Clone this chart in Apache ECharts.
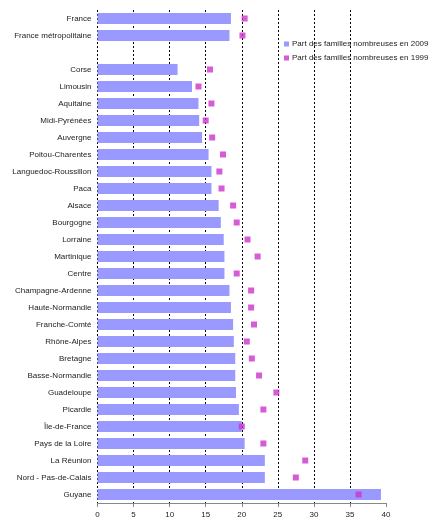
<!DOCTYPE html>
<html><head><meta charset="utf-8">
<script src="https://cdn.jsdelivr.net/npm/echarts@6/dist/echarts.min.js"></script>
<style>html,body{margin:0;padding:0;background:#fff}#c{width:448px;height:531px}</style>
</head><body><div id="c"></div>
<script>
const categories = ["France","France métropolitaine","","Corse","Limousin","Aquitaine","Midi-Pyrénées","Auvergne","Poitou-Charentes","Languedoc-Roussillon","Paca","Alsace","Bourgogne","Lorraine","Martinique","Centre","Champagne-Ardenne","Haute-Normandie","Franche-Comté","Rhône-Alpes","Bretagne","Basse-Normandie","Guadeloupe","Picardie","Île-de-France","Pays de la Loire","La Réunion","Nord - Pas-de-Calais","Guyane"];
const values2009 = [18.5,18.3,null,11.1,13.1,14.0,14.1,14.5,15.4,15.8,15.8,16.8,17.1,17.5,17.6,17.6,18.3,18.5,18.8,18.9,19.1,19.1,19.2,19.6,20.0,20.4,23.2,23.2,39.3];
const values1999 = [20.4,20.1,null,15.6,14.0,15.8,15.0,15.9,17.4,16.9,17.2,18.8,19.3,20.8,22.2,19.3,21.3,21.3,21.7,20.7,21.4,22.4,24.8,23.0,20.0,23.0,28.8,27.5,36.2];
const seriesNames = ["Part des familles nombreuses en 2009","Part des familles nombreuses en 1999"];
const xTicks = {min:0,max:40,interval:5};

const chart = echarts.init(document.getElementById('c'));
chart.setOption({
  animation:false,
  textStyle:{fontFamily:'Liberation Sans, Arial, sans-serif'},
  grid:{left:97.5,right:62,top:10,bottom:28,containLabel:false,outerBoundsMode:'none'},
  legend:{
    orient:'vertical',left:279,top:35,itemWidth:5,itemHeight:5,itemGap:6,
    textStyle:{fontSize:8,color:'#222',padding:[0,0,0,-2]},
    data:[{name:seriesNames[0],icon:'rect'},{name:seriesNames[1],icon:'rect'}]
  },
  xAxis:{
    type:'value',min:xTicks.min,max:xTicks.max,interval:xTicks.interval,
    axisLine:{show:true,lineStyle:{color:'#888'}},
    axisTick:{show:true,length:4,lineStyle:{color:'#888'}},
    axisLabel:{fontSize:8,color:'#222',margin:8},
    splitLine:{show:true,showMaxLine:false,lineStyle:{color:'#000',type:[2,2],width:1}}
  },
  yAxis:{
    type:'category',data:categories,inverse:true,
    axisLine:{show:false},axisTick:{show:false},
    axisLabel:{fontSize:8,color:'#222',margin:6,interval:0}
  },
  series:[
    {name:seriesNames[0],type:'bar',data:values2009,barCategoryGap:'36%',
     itemStyle:{color:'#9999FF'}},
    {name:seriesNames[1],type:'scatter',data:values1999,symbol:'rect',symbolSize:6,
     itemStyle:{color:'#CC33CC'}}
  ]
});
</script></body></html>
